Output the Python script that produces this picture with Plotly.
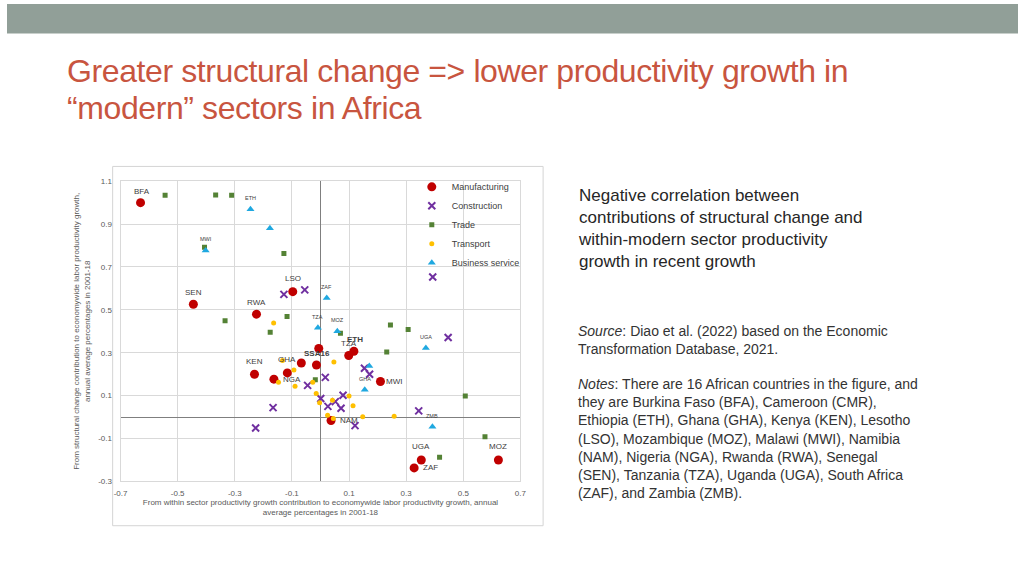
import plotly.graph_objects as go

# ---------------- data ----------------
mfg_x = [-0.63, -0.445, -0.224, -0.097, -0.006, 0.117, 0.099, -0.231, -0.163, -0.116, -0.067, -0.014, 0.21, 0.037, 0.353, 0.328, 0.623]
mfg_y = [1.00, 0.526, 0.48, 0.585, 0.32, 0.307, 0.287, 0.20, 0.177, 0.206, 0.252, 0.243, 0.166, -0.016, -0.20, -0.237, -0.20]
mfg_labels = ["BFA", "SEN", "RWA", "LSO", "<b>SSA16</b>", "<b>ETH</b>", "TZA", "KEN", "NGA", "GHA", "", "", "MWI", "NAM", "UGA", "ZAF", "MOZ"]

con_x = [-0.128, -0.055, 0.393, 0.447, 0.154, 0.172, 0.017, -0.045, -0.166, -0.227, 0.001, 0.052, 0.079, 0.026, 0.072, 0.121, 0.344]
con_y = [0.572, 0.593, 0.653, 0.371, 0.228, 0.200, 0.185, 0.148, 0.044, -0.051, 0.087, 0.072, 0.102, 0.050, 0.041, -0.040, 0.029]

trd_x = [-0.544, -0.367, -0.311, -0.406, -0.128, -0.334, -0.117, -0.176, 0.07, 0.245, 0.307, 0.232, -0.018, 0.507, 0.576, 0.417]
trd_y = [1.035, 1.036, 1.035, 0.792, 0.763, 0.449, 0.469, 0.396, 0.391, 0.429, 0.408, 0.304, 0.174, 0.098, -0.092, -0.187]

trn_x = [-0.164, 0.047, -0.093, -0.147, -0.089, -0.027, -0.015, -0.003, 0.042, 0.10, 0.114, 0.025, 0.045, 0.148, 0.258, -0.133]
trn_y = [0.439, 0.257, 0.220, 0.162, 0.144, 0.163, 0.110, 0.067, 0.078, 0.098, 0.053, 0.009, -0.006, 0.001, 0.004, 0.264]

bus_x = [-0.245, -0.177, -0.402, 0.022, -0.009, 0.059, 0.369, 0.171, 0.155, 0.392]
bus_y = [0.969, 0.880, 0.777, 0.555, 0.417, 0.400, 0.322, 0.238, 0.128, -0.045]
bus_labels = ["ETH", "", "MWI", "ZAF", "TZA", "MOZ", "UGA", "", "GHA", "ZMB"]

x_ticks = [-0.7, -0.5, -0.3, -0.1, 0.1, 0.3, 0.5, 0.7]
x_ticktext = ["-0.7", "-0.5", "-0.3", "-0.1", "0.1", "0.3", "0.5", "0.7"]
y_ticks = [-0.3, -0.1, 0.1, 0.3, 0.5, 0.7, 0.9, 1.1]
y_ticktext = ["-0.3", "-0.1", "0.1", "0.3", "0.5", "0.7", "0.9", "1.1"]

title_lines = ["Greater structural change => lower productivity growth in",
               "\u201cmodern\u201d sectors in Africa"]
side_text = ("Negative correlation between<br>contributions of structural change and<br>"
             "within-modern sector productivity<br>growth in recent growth")
source_text = ("<i>Source</i>: Diao et al. (2022) based on the Economic<br>"
               "Transformation Database, 2021.")
notes_text = ("<i>Notes</i>: There are 16 African countries in the figure, and<br>"
              "they are Burkina Faso (BFA), Cameroon (CMR),<br>"
              "Ethiopia (ETH), Ghana (GHA), Kenya (KEN), Lesotho<br>"
              "(LSO), Mozambique (MOZ), Malawi (MWI), Namibia<br>"
              "(NAM), Nigeria (NGA), Rwanda (RWA), Senegal<br>"
              "(SEN), Tanzania (TZA), Uganda (UGA), South Africa<br>"
              "(ZAF), and Zambia (ZMB).")

# ---------------- styles ----------------
W, H = 1024, 576
def px(x): return x / W
def py(y): return 1 - y / H

# label offsets (pixels) for manufacturing labels
mfg_off = {"BFA": (1, 11), "SEN": (0, 12), "RWA": (0, 12), "LSO": (0, 13), "<b>SSA16</b>": (-2, -5),
           "<b>ETH</b>": (1, 12), "TZA": (0, 12), "KEN": (0, 13), "NGA": (18, 0), "GHA": (0, 13),
           "MWI": (14, 0), "NAM": (18, 0), "UGA": (0, 13), "ZAF": (16, 0), "MOZ": (0, 13)}

fig = go.Figure()
fig.add_trace(go.Scatter(x=mfg_x, y=mfg_y, mode="markers", name="Manufacturing",
                         marker=dict(symbol="circle", size=9, color="#C00000")))
fig.add_trace(go.Scatter(x=con_x, y=con_y, mode="markers", name="Construction",
                         marker=dict(symbol="x-thin", size=7, color="#7030A0",
                                     line=dict(width=2, color="#7030A0"))))
fig.add_trace(go.Scatter(x=trd_x, y=trd_y, mode="markers", name="Trade",
                         marker=dict(symbol="square", size=5, color="#548235")))
fig.add_trace(go.Scatter(x=trn_x, y=trn_y, mode="markers", name="Transport",
                         marker=dict(symbol="circle", size=5, color="#FFC000")))
fig.add_trace(go.Scatter(x=bus_x, y=bus_y, mode="markers", name="Business service",
                         marker=dict(symbol="triangle-up", size=7, color="#1FA8E0")))

lab_font = "Liberation Sans, Arial"
ann = []
for x, y, t in zip(mfg_x, mfg_y, mfg_labels):
    if not t:
        continue
    dx, dy = mfg_off[t]
    ann.append(dict(x=x, y=y, xref="x", yref="y", text=t, showarrow=False,
                    xshift=dx, yshift=dy, font=dict(size=8, color="#404040", family=lab_font)))
for x, y, t in zip(bus_x, bus_y, bus_labels):
    if not t:
        continue
    ann.append(dict(x=x, y=y, xref="x", yref="y", text=t, showarrow=False,
                    xshift=0, yshift=11, font=dict(size=5.5, color="#404040", family=lab_font)))

# title
for i, line in enumerate(title_lines):
    ann.append(dict(x=px(59), y=py(68 + 38 * i), xref="paper", yref="paper", xanchor="left", yanchor="middle",
                    text='<span style="letter-spacing:-0.4px">' + line + '</span>', showarrow=False,
                    font=dict(size=32, color="#C8553F", family="Liberation Sans, Arial")))
# side text
ann.append(dict(x=px(576), y=py(183), xref="paper", yref="paper", xanchor="left", yanchor="top",
                align="left", text=side_text, showarrow=False,
                font=dict(size=17, color="#262626", family=lab_font)))
ann.append(dict(x=px(576), y=py(322), xref="paper", yref="paper", xanchor="left", yanchor="top",
                align="left", text=source_text, showarrow=False,
                font=dict(size=14, color="#333333", family=lab_font)))
ann.append(dict(x=px(576), y=py(376), xref="paper", yref="paper", xanchor="left", yanchor="top",
                align="left", text=notes_text, showarrow=False,
                font=dict(size=14, color="#333333", family=lab_font)))

shapes = [
    dict(type="rect", xref="paper", yref="paper", x0=0, x1=1, y0=py(30), y1=1,
         fillcolor="#919F98", line=dict(width=0), layer="below"),
    dict(type="rect", xref="paper", yref="paper", x0=px(107), x1=px(543), y0=py(530), y1=py(165),
         fillcolor="white", line=dict(width=1, color="#D4D4D4"), layer="below"),
]

axis_font = dict(size=8, color="#595959", family=lab_font)
fig.update_layout(
    width=W, height=H, margin=dict(l=0, r=0, t=0, b=0),
    paper_bgcolor="white", plot_bgcolor="white",
    showlegend=True,
    legend=dict(x=px(410), y=py(171), xanchor="left", yanchor="top",
                bgcolor="rgba(255,255,255,0)", font=dict(size=9, color="#404040", family=lab_font),
                tracegroupgap=0, itemwidth=30),
    xaxis=dict(domain=[px(115), px(520)], range=[-0.7, 0.7], tickvals=x_ticks, ticktext=x_ticktext,
               showgrid=True, gridcolor="#D9D9D9", gridwidth=1,
               zeroline=True, zerolinecolor="#7F7F7F", zerolinewidth=1,
               showline=True, mirror=True, linecolor="#D9D9D9", linewidth=1,
               ticks="", tickfont=axis_font, ticklabelstandoff=4,
               title=dict(text="From within sector productivity growth contribution to economywide labor productivity growth, annual<br>average percentages in 2001-18",
                          font=dict(size=8, color="#595959", family=lab_font), standoff=0)),
    yaxis=dict(domain=[py(485), py(180)], range=[-0.3, 1.1], tickvals=y_ticks, ticktext=y_ticktext,
               showgrid=True, gridcolor="#D9D9D9", gridwidth=1,
               zeroline=True, zerolinecolor="#7F7F7F", zerolinewidth=1,
               showline=True, mirror=True, linecolor="#D9D9D9", linewidth=1,
               ticks="", tickfont=axis_font, ticklabelstandoff=6,
               title=dict(text="From structural change contribution to economywide labor productivity growth,<br>annual average percentages in 2001-18",
                          font=dict(size=8, color="#595959", family=lab_font), standoff=6)),
    annotations=ann, shapes=shapes,
)

page_fix = (
    "var de=document.documentElement, b=document.body;"
    "de.style.margin='0';de.style.padding='0';de.style.overflow='hidden';"
    "b.style.margin='0';b.style.padding='0';b.style.overflow='hidden';"
)
fig.write_html("out.html", config={"displayModeBar": False}, post_script=page_fix)
